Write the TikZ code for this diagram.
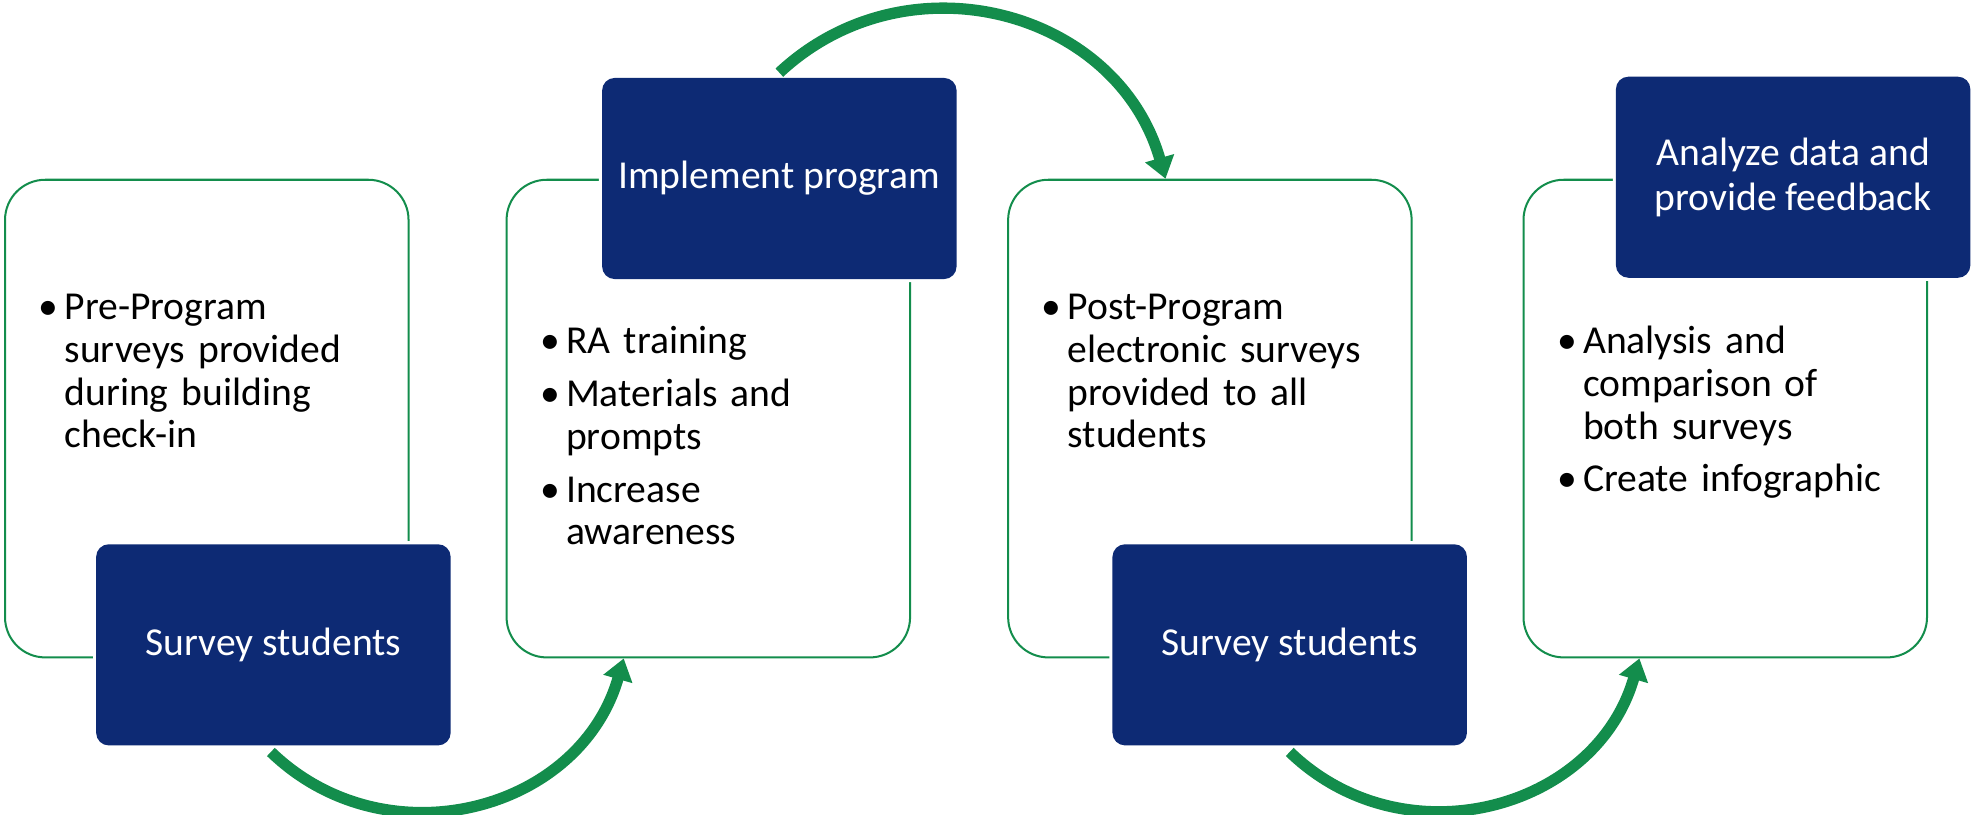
\documentclass[tikz,border=0pt]{standalone}
\usepackage{fontspec}
\setmainfont{Carlito}
\usetikzlibrary{calc,positioning,arrows.meta}

\definecolor{navy}{RGB}{13,42,116}
\definecolor{leaf}{RGB}{19,141,76}

% one bullet point, hanging indent for the wrapped lines
\newcommand\bul[1]{\par\hangindent=15pt\hangafter=0\noindent\llap{\textbullet\hspace{5pt}}\strut#1\par}

\begin{document}
\begin{tikzpicture}[x=1pt,y=1pt,
  panel/.style={draw=leaf,line width=1.6pt,rounded corners=32pt,minimum width=321pt,minimum height=380pt,inner sep=0pt},
  head/.style={fill=navy,preaction={draw=white,line width=5pt},rounded corners=10pt,minimum width=282pt,minimum height=160pt,inner sep=0pt,text=white,align=center,font=\fontsize{31.5}{36}\selectfont},
  notes/.style={anchor=north west,text width=275pt,inner sep=0pt,font=\fontsize{31.5}{34}\selectfont,execute at begin node={\setlength{\parskip}{8pt}}},
  flow/.style={leaf,line width=9pt,-{Triangle[width=23pt,length=17pt]}}]
\useasboundingbox (0,0) rectangle (1568,648);

% outlined panels
\node[panel] (p1) at (164.5,315) {};
\node[panel] (p2) at (563.5,315) {};
\node[panel] (p3) at (962.5,315) {};
\node[panel] (p4) at (1372.5,315) {};

% step titles
\node[head] (h1) at (217.5,135) {Survey students};
\node[head] (h2) at (620,506) {Implement program};
\node[head] (h3) at (1026,135) {Survey students};
\node[head] (h4) at (1426.5,507) {Analyze data and\\provide feedback};

% details
\node[notes] (n1) at ($(p1.north west)+(33,-70)$) {\bul{Pre-Program\newline surveys provided\newline during building\newline check-in}};
\node[notes] (n2) at ($(p2.north west)+(33,-97)$) {\bul{RA training}\bul{Materials and\newline prompts}\bul{Increase\newline awareness}};
\node[notes] (n3) at ($(p3.north west)+(33,-70)$) {\bul{Post-Program\newline electronic surveys\newline provided to all\newline students}};
\node[notes] (n4) at ($(p4.north west)+(33,-97)$) {\bul{Analysis and\newline comparison of\newline both surveys}\bul{Create infographic}};

% arcs between the steps
\draw[flow] ($(h1.south)+(-2,-5)$) to[out=-44,in=-106,looseness=1.12] ($(p2.south west)+(94,0)$);
\draw[flow] ($(h2.north)+(0,4)$) to[out=43,in=106,looseness=1.12] ($(p3.north west)+(126,0)$);
\draw[flow] ($(h3.south)+(0,-5)$) to[out=-44,in=-106,looseness=1.12] ($(p4.south west)+(93,0)$);
\end{tikzpicture}
\end{document}
